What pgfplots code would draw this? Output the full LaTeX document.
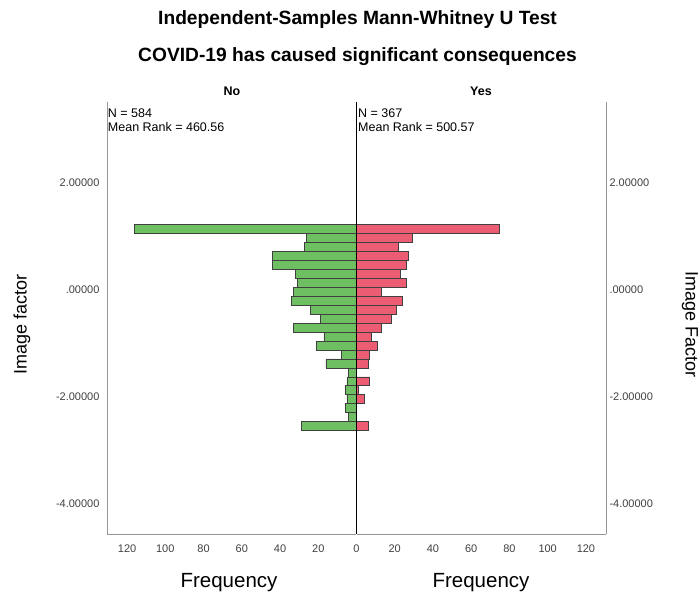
\documentclass[border=0pt]{standalone}
\usepackage{pgfplots}
\pgfplotsset{compat=1.18}
\usepackage{fontspec}
\setmainfont{Liberation Sans}
\definecolor{barG}{RGB}{110,190,98}
\definecolor{barR}{RGB}{236,92,114}
\definecolor{frameG}{RGB}{150,150,150}

\pgfplotstableread{
y       f
1.1300  116
0.9625  26
0.7950  27
0.6275  44
0.4600  44
0.2925  32
0.1250  31
-0.0425 33
-0.2100 34
-0.3775 24
-0.5450 19
-0.7125 33
-0.8800 17
-1.0475 21
-1.2150 8
-1.3825 16
-1.5500 4
-1.7175 5
-1.8850 6
-2.0525 5
-2.2200 6
-2.3875 4
-2.5550 29
}\noTable

\pgfplotstableread{
y       f
1.1300  75
0.9625  29
0.7950  22
0.6275  27
0.4600  26
0.2925  23
0.1250  26
-0.0425 13
-0.2100 24
-0.3775 21
-0.5450 18
-0.7125 13
-0.8800 8
-1.0475 11
-1.2150 7
-1.3825 6
-1.5500 0
-1.7175 7
-1.8850 1
-2.0525 4
-2.2200 0
-2.3875 0
-2.5550 6
}\yesTable

\pgfplotsset{
  hist/.style={
    scale only axis,
    width=249.5pt, height=432pt,
    xmin=0, xmax=130.5, ymin=-4.57, ymax=3.505,
    axis line style={-, frameG, line width=0.9pt},
    xbar, bar width=0.1675, bar shift=0pt,
    major tick length=0pt,
    ytick={-4,-2,0,2},
    yticklabels={-4.00000,-2.00000,.00000,2.00000},
    tick label style={font=\fontsize{11}{13}\selectfont, text=black!75},
    xticklabel style={yshift=-7pt},
    clip=false,
  },
}

\begin{document}
\begin{tikzpicture}[x=1pt,y=1pt]

\node[anchor=base, font=\bfseries\fontsize{19.2}{22}\selectfont] at (357.5,574) {Independent-Samples Mann-Whitney U Test};
\node[anchor=base, font=\bfseries\fontsize{19.2}{22}\selectfont] at (357.5,537) {COVID-19 has caused significant consequences};

\begin{axis}[hist,
  at={(107pt,65pt)}, anchor=south west,
  x dir=reverse,
  axis x line*=bottom, axis y line*=left,
  yticklabel style={xshift=-4pt},
  xtick={0,20,40,60,80,100,120},
  xticklabels={0,20,40,60,80,100,120},
  title={No},
  title style={at={(axis description cs:0.501,1.012)}, anchor=center, font=\bfseries\fontsize{12.5}{14}\selectfont},
  xlabel={Frequency},
  xlabel style={at={(axis description cs:0.489,0)}, anchor=center, yshift=-49pt, font=\fontsize{20.5}{22}\selectfont},
  ylabel={Image factor},
  ylabel style={at={(axis description cs:-0.3407,0.486)}, anchor=center, font=\fontsize{18}{20}\selectfont},
]
\addplot[draw=black!75, line width=0.8pt, fill=barG] table[x=f, y=y] {\noTable};
\draw[black, line width=0.9pt] (axis cs:0,-4.57) -- (axis cs:0,3.505);
\node[anchor=north west, inner sep=0pt, align=left, font=\fontsize{12.5}{13.5}\selectfont] at (axis description cs:0.003,0.984) {N = 584\\Mean Rank = 460.56};
\end{axis}

\begin{axis}[hist,
  at={(356.5pt,65pt)}, anchor=south west,
  axis x line*=bottom, axis y line*=right,
  xtick={20,40,60,80,100,120},
  xticklabels={20,40,60,80,100,120},
  title={Yes},
  title style={at={(axis description cs:0.499,1.012)}, anchor=center, font=\bfseries\fontsize{12.5}{14}\selectfont},
  xlabel={Frequency},
  xlabel style={at={(axis description cs:0.499,0)}, anchor=center, yshift=-49pt, font=\fontsize{20.5}{22}\selectfont},
  ylabel={Image Factor},
  ylabel style={at={(axis description cs:1.3367,0.486)}, anchor=center, rotate=180, font=\fontsize{18}{20}\selectfont},
]
\addplot[draw=black!75, line width=0.8pt, fill=barR] table[x=f, y=y] {\yesTable};
\draw[black, line width=0.9pt] (axis cs:0,-4.57) -- (axis cs:0,3.505);
\node[anchor=north west, inner sep=0pt, align=left, font=\fontsize{12.5}{13.5}\selectfont] at (axis description cs:0.006,0.984) {N = 367\\Mean Rank = 500.57};
\end{axis}

\pgfresetboundingbox
\path (0,0) rectangle (699,599);
\end{tikzpicture}
\end{document}
